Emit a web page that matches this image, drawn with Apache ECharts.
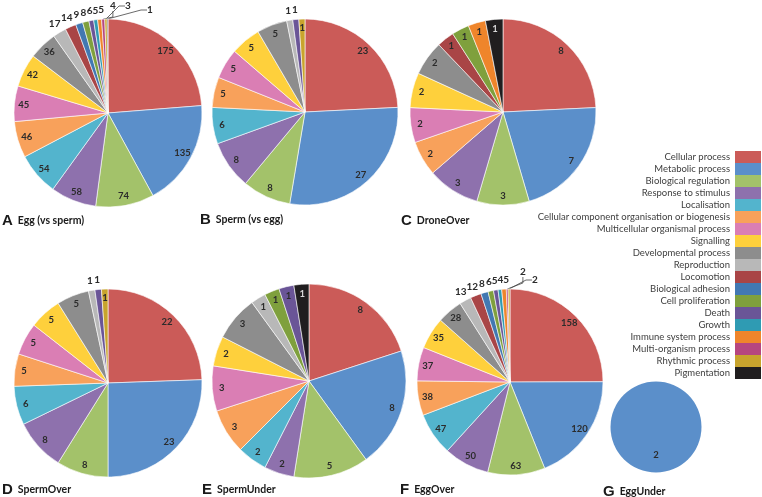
<!DOCTYPE html>
<html><head><meta charset="utf-8">
<script src="https://cdn.jsdelivr.net/npm/echarts@6/dist/echarts.min.js"></script>
<style>html,body{margin:0;padding:0;background:#fff}#c{width:762px;height:497px}</style>
</head><body><div id="c"></div>
<script>
// ---------- data ----------
const categories = [
  'Cellular process','Metabolic process','Biological regulation','Response to stimulus',
  'Localisation','Cellular component organisation or biogenesis','Multicellular organismal process',
  'Signalling','Developmental process','Reproduction','Locomotion','Biological adhesion',
  'Cell proliferation','Death','Growth','Immune system process','Multi-organism process',
  'Rhythmic process','Pigmentation'
];
const eggVsSperm   = [175,135,74,58,54,46,45,42,36,17,14,9,8,6,5,5,4,3,1];
const spermVsEgg   = [23,27,8,8,6,5,5,5,5,1,0,0,0,1,0,0,0,1,0];
const droneOver    = [8,7,3,3,0,2,2,2,2,0,1,0,1,0,0,1,0,0,1];
const spermOver    = [22,23,8,8,6,5,5,5,5,1,0,0,0,1,0,0,0,1,0];
const spermUnder   = [8,8,5,2,2,3,3,2,3,1,0,0,1,1,0,0,0,0,1];
const eggOver      = [158,120,63,50,47,38,37,35,28,13,12,8,6,5,4,5,2,2,0];
const eggUnder     = [0,2,0,0,0,0,0,0,0,0,0,0,0,0,0,0,0,0,0];

// ---------- style ----------
const palette = ['#cb5b58','#5b8fca','#a3c26a','#8e71ad','#53b4cd','#f8a15b','#da7eb4',
  '#fed03c','#8d8d8d','#b8b8b8','#a94546','#4278b2','#7fa03d','#6a5597','#2f9bb3',
  '#ef852b','#b6467f','#c8a42d','#201e1f'];
const FONT = 'Lato';

const panels = [
  {letter:'A', title:'Egg (vs sperm)', values:eggVsSperm, center:[108,113], r:94, tl:[2,212],
   outer:[9,10,11,12,13,14,15], shift:true, leader:[16,17,18],
   leaderPos:[[2,13],[17,13],[39,9]]},
  {letter:'B', title:'Sperm (vs egg)', values:spermVsEgg, center:[305,112], r:93, tl:[200,211],
   outer:[9,13]},
  {letter:'C', title:'DroneOver', values:droneOver, center:[503,112], r:93, tl:[401,212]},
  {letter:'D', title:'SpermOver', values:spermOver, center:[108,383], r:94, tl:[2,481],
   outer:[9,13]},
  {letter:'E', title:'SpermUnder', values:spermUnder, center:[309,381], r:97, tl:[202,481]},
  {letter:'F', title:'EggOver', values:eggOver, center:[510,382], r:93, tl:[400,481],
   outer:[9,10,11,12,13,14,15], shift:true, leader:[16,17],
   leaderPos:[[10,17],[22,9]]},
  {letter:'G', title:'EggUnder', values:eggUnder, center:[656,427], r:45.5, tl:[603,483],
   inner:0.54, noBorder:true}
];

const labelText = {fontFamily:FONT, fontWeight:'bold', fontSize:9.5, color:'#2b2b2b'};

function itemsOf(p) {
  const out = [];
  categories.forEach((name, ci) => {
    if (p.values[ci] > 0) out.push({ci, name, value:p.values[ci]});
  });
  return out;
}

const visibleSeries = [], overlaySeries = [], titles = [];
panels.forEach(p => {
  const items = itemsOf(p);
  const outer = p.outer || [], leader = p.leader || [];
  // visible pie
  visibleSeries.push({
    type:'pie', center:p.center, radius:[0,p.r], startAngle:90, clockwise:true,
    silent:true, animation:false, avoidLabelOverlap:false,
    itemStyle:{borderColor:'#fff', borderWidth:p.noBorder?0:0.6},
    label:{show:false},
    labelLine:{show:false},
    data: items.map(it => {
      const li = leader.indexOf(it.ci);
      const d = {name:it.name, value:it.value, itemStyle:{color:palette[it.ci]}};
      if (li >= 0) {
        d.label = Object.assign({show:true, position:'outside', formatter:'{c}'}, labelText, {fontSize:10});
        d.labelLine = {show:true, length:6, length2:6, lineStyle:{color:'#444', width:0.8}};
      }
      return d;
    }),
    labelLayout: function (params) {
      const it = items[params.dataIndex];
      const li = it ? leader.indexOf(it.ci) : -1;
      if (li < 0) return {};
      const off = p.leaderPos[li];
      return {x:p.center[0] + off[0], y:p.center[1] - p.r - off[1], align:'left', verticalAlign:'middle'};
    }
  });
  // inner labels overlay
  const fIn = p.inner || 0.87;
  overlaySeries.push({
    type:'pie', center:p.center, radius:[0, 2*fIn*p.r], startAngle:90, clockwise:true,
    silent:true, animation:false, avoidLabelOverlap:false,
    itemStyle:{color:'rgba(0,0,0,0)'},
    label:Object.assign({show:false, position:'inside', formatter:'{c}'}, labelText),
    labelLine:{show:false},
    data: items.map(it => {
      const d = {name:it.name, value:it.value, itemStyle:{color:'rgba(0,0,0,0)'}};
      if (outer.indexOf(it.ci) < 0 && leader.indexOf(it.ci) < 0) {
        d.label = {show:true, color: it.ci === 18 ? '#d8d8d8' : labelText.color};
      }
      return d;
    })
  });
  if (outer.length) {
    overlaySeries.push({
      type:'pie', center:p.center, radius:[0, 2*1.07*p.r], startAngle:90, clockwise:true,
      silent:true, animation:false, avoidLabelOverlap:false,
      itemStyle:{color:'rgba(0,0,0,0)'},
      label:Object.assign({show:false, position:'inside', formatter:'{c}'}, labelText, {fontSize:10}),
      labelLine:{show:false},
      data: items.map(it => {
        const d = {name:it.name, value:it.value, itemStyle:{color:'rgba(0,0,0,0)'}};
        if (outer.indexOf(it.ci) >= 0) d.label = {show:true};
        return d;
      }),
      labelLayout: function (params) {
        const it = items[params.dataIndex];
        if (p.shift && it && outer.indexOf(it.ci) >= 0) return {moveOverlap:'shiftX'};
        return {};
      }
    });
  }
  titles.push({
    text:'{l|' + p.letter + '}{t|' + p.title + '}',
    left:p.tl[0], top:p.tl[1], padding:0,
    textStyle:{rich:{
      l:{fontFamily:'Liberation Sans', fontWeight:'bold', fontSize:15, color:'#1a1a1a', lineHeight:17},
      t:{fontFamily:FONT, fontWeight:'bold', fontSize:10.5, color:'#1a1a1a', padding:[0,0,0,5], lineHeight:17}
    }}
  });
});

const chart = echarts.init(document.getElementById('c'), null, {renderer:'canvas'});
chart.setOption({
  backgroundColor:'#fff',
  animation:false,
  title:titles,
  legend:{
    orient:'vertical', right:1, top:151, padding:0,
    itemWidth:26, itemHeight:12, itemGap:0, align:'right', icon:'rect',
    selectedMode:false,
    itemStyle:{borderWidth:0},
    textStyle:{fontFamily:FONT, fontSize:9.5, color:'#404040', lineHeight:12},
    data:categories
  },
  series: visibleSeries.concat(overlaySeries)
});
</script></body></html>
